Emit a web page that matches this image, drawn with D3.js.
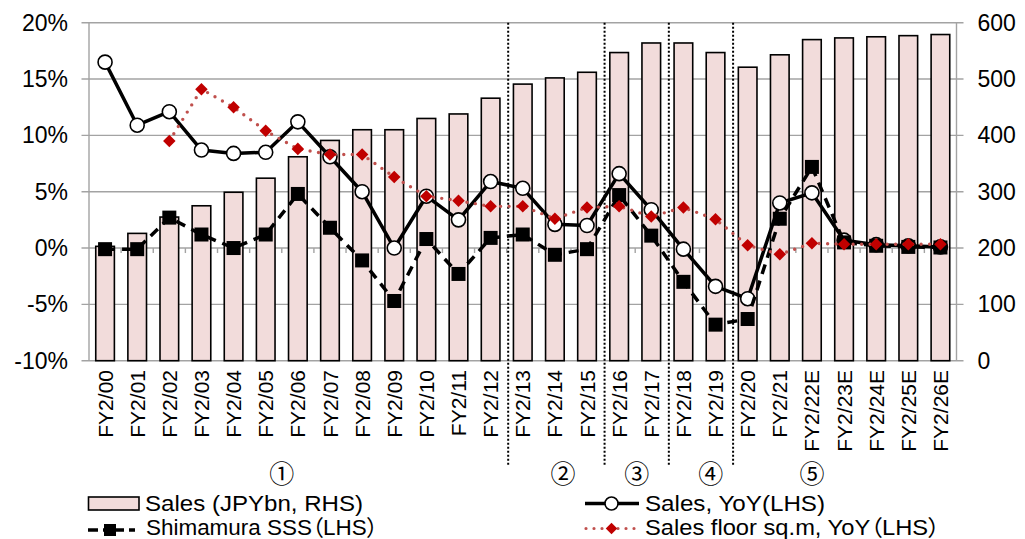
<!DOCTYPE html>
<html>
<head>
<meta charset="utf-8">
<script src="https://cdn.jsdelivr.net/npm/d3@7"></script>
<style>
  html, body { margin: 0; padding: 0; background: #fff; }
  svg { display: block; }
  text { font-family: "Liberation Sans", Arial, "Noto Sans CJK JP", sans-serif; fill: #000; }
</style>
</head>
<body>
<svg id="chart" width="1025" height="539"></svg>
<script>
// Fiscal years (Feb year-end), E = estimate
const categories = ["FY2/00","FY2/01","FY2/02","FY2/03","FY2/04","FY2/05","FY2/06","FY2/07","FY2/08",
  "FY2/09","FY2/10","FY2/11","FY2/12","FY2/13","FY2/14","FY2/15","FY2/16","FY2/17","FY2/18","FY2/19",
  "FY2/20","FY2/21","FY2/22E","FY2/23E","FY2/24E","FY2/25E","FY2/26E"];

// Sales, JPY bn (right axis)
const sales = [203, 226, 255, 275, 299, 324, 362, 391, 410, 410, 430, 438, 466, 491, 502, 512,
  547, 564, 564, 547, 521, 543, 570, 573, 575, 577, 579];

// Sales YoY, % (left axis)
const salesYoY = [16.5, 10.9, 12.1, 8.7, 8.4, 8.5, 11.2, 8.1, 5.0, 0.0, 4.6, 2.5, 5.9, 5.3, 2.1, 2.0,
  6.6, 3.4, -0.1, -3.4, -4.5, 4.0, 4.9, 0.7, 0.3, 0.2, 0.1];

// Same-store sales YoY, %
const sss = [-0.1, -0.1, 2.7, 1.2, 0.0, 1.2, 4.8, 1.8, -1.1, -4.7, 0.8, -2.3, 0.9, 1.2, -0.6, -0.1,
  4.7, 1.1, -3.0, -6.8, -6.3, 2.6, 7.2, 0.5, 0.2, 0.1, 0.05];

// Sales floor area YoY, % (no data for the first two years)
const floorYoY = [null, null, 9.5, 14.1, 12.5, 10.4, 8.8, 8.3, 8.3, 6.3, 4.6, 4.2, 3.7, 3.7, 2.6, 3.6,
  3.7, 2.8, 3.6, 2.55, 0.24, -0.56, 0.42, 0.33, 0.33, 0.33, 0.33];

// Axis ticks
const leftTicks = [-10, -5, 0, 5, 10, 15, 20];
const rightTicks = [0, 100, 200, 300, 400, 500, 600];

// Period markers: label and the first category of each later period
const periodLabels = ["①", "②", "③", "④", "⑤"];
const periodStarts = ["FY2/13", "FY2/16", "FY2/18", "FY2/20"];

// Legend entries
const legendLabels = ["Sales (JPYbn, RHS)", "Sales, YoY(LHS)", "Shimamura SSS（LHS）", "Sales floor sq.m, YoY（LHS）"];

// ---- layout ----
const plot = { left: 89, right: 956.5, top: 22.7, bottom: 360.7 };
const svg = d3.select("#chart");

const x = d3.scaleBand().domain(categories).range([plot.left, plot.right])
  .paddingInner(0.42).paddingOuter(0.21);
const step = x.step();
const cx = d => x(d) + x.bandwidth() / 2;
const yL = d3.scaleLinear().domain([-10, 20]).range([plot.bottom, plot.top]);
const yR = d3.scaleLinear().domain([0, 600]).range([plot.bottom, plot.top]);

const grid = "#a3a3a3";

// horizontal gridlines (extend slightly outside both axes as tick marks)
svg.append("g").selectAll("line").data(leftTicks).join("line")
  .attr("x1", plot.left - 7.5).attr("x2", plot.right + 7)
  .attr("y1", d => yL(d)).attr("y2", d => yL(d))
  .attr("stroke", grid).attr("stroke-width", 1.4);

// vertical axis lines
svg.append("line").attr("x1", plot.left).attr("x2", plot.left)
  .attr("y1", plot.top).attr("y2", plot.bottom).attr("stroke", grid).attr("stroke-width", 1.4);
svg.append("line").attr("x1", plot.right).attr("x2", plot.right)
  .attr("y1", plot.top).attr("y2", plot.bottom).attr("stroke", grid).attr("stroke-width", 1.4);

// left axis labels
const axL = svg.append("g").attr("transform", `translate(${plot.left},0)`)
  .call(d3.axisLeft(yL).tickValues(leftTicks).tickFormat(d => d + "%").tickSize(0).tickPadding(21));
axL.select(".domain").remove();
axL.selectAll("text").style("font-size", "23px").attr("font-family", null);

// right axis labels
const axR = svg.append("g").attr("transform", `translate(${plot.right},0)`)
  .call(d3.axisRight(yR).tickValues(rightTicks).tickSize(0).tickPadding(21));
axR.select(".domain").remove();
axR.selectAll("text").style("font-size", "23px").attr("font-family", null);

// bars: sales on the right axis
svg.append("g").selectAll("rect").data(categories).join("rect")
  .attr("x", d => x(d))
  .attr("width", x.bandwidth())
  .attr("y", (d, i) => yR(sales[i]))
  .attr("height", (d, i) => yR(0) - yR(sales[i]))
  .attr("fill", "#f2dcdb").attr("stroke", "#000").attr("stroke-width", 1.6);

// category ticks on the zero line
svg.append("g").selectAll("line").data(categories.slice(1)).join("line")
  .attr("x1", d => x(d) - step * 0.21).attr("x2", d => x(d) - step * 0.21)
  .attr("y1", yL(0)).attr("y2", yL(0) + 5)
  .attr("stroke", grid).attr("stroke-width", 1.4);

// category labels, rotated
svg.append("g").selectAll("text").data(categories).join("text")
  .attr("transform", d => `translate(${cx(d)},370) rotate(-90)`)
  .attr("text-anchor", "end").attr("dy", "0.36em")
  .style("font-size", "21px")
  .text(d => d);

// period separators
svg.append("g").selectAll("line").data(periodStarts).join("line")
  .attr("x1", d => x(d) - step * 0.21 + 1.5).attr("x2", d => x(d) - step * 0.21 + 1.5)
  .attr("y1", plot.top).attr("y2", 466.5)
  .attr("stroke", "#000").attr("stroke-width", 2).attr("stroke-dasharray", "2,2");

// period labels placed along the category axis
const periodAt = [5.5, 14.25, 16.55, 18.85, 22.0];
const bandCenter = i => plot.left + step * 0.5 + i * step;
svg.append("g").selectAll("text").data(periodLabels).join("text")
  .attr("x", (d, i) => bandCenter(periodAt[i]))
  .attr("y", 483)
  .attr("text-anchor", "middle")
  .style("font-size", "25px")
  .style("font-family", "'Noto Sans CJK JP', sans-serif")
  .text(d => d);

// line generators
const lineL = vals => d3.line()
  .defined((d, i) => vals[i] !== null)
  .x(d => cx(d)).y((d, i) => yL(vals[i]));

// Sales YoY: solid line with open circles
svg.append("path").datum(categories).attr("d", lineL(salesYoY))
  .attr("fill", "none").attr("stroke", "#000").attr("stroke-width", 3.5).attr("stroke-linejoin", "round");
svg.append("g").selectAll("circle").data(categories).join("circle")
  .attr("cx", d => cx(d)).attr("cy", (d, i) => yL(salesYoY[i])).attr("r", 7)
  .attr("fill", "#fff").attr("stroke", "#000").attr("stroke-width", 1.6);

// SSS: dashed line with filled squares
svg.append("path").datum(categories).attr("d", lineL(sss))
  .attr("fill", "none").attr("stroke", "#000").attr("stroke-width", 3.5).attr("stroke-dasharray", "10,7");
svg.append("g").selectAll("rect").data(categories).join("rect")
  .attr("x", d => cx(d) - 7).attr("y", (d, i) => yL(sss[i]) - 7)
  .attr("width", 14).attr("height", 14).attr("fill", "#000");

// Sales floor YoY: dotted red line with diamonds
const floorCats = categories.filter((d, i) => floorYoY[i] !== null);
svg.append("path").datum(categories).attr("d", lineL(floorYoY))
  .attr("fill", "none").attr("stroke", "#c0504d").attr("stroke-width", 3.4)
  .attr("stroke-linecap", "round").attr("stroke-dasharray", "0,8.5");
const diamond = d3.symbol().type(d3.symbolDiamond2).size(100);
svg.append("g").selectAll("path").data(floorCats).join("path")
  .attr("transform", d => `translate(${cx(d)},${yL(floorYoY[categories.indexOf(d)])})`)
  .attr("d", diamond).attr("fill", "#c00000");

// ---- legend ----
const lg = svg.append("g");
const legendText = (label, xx, yy, len) => lg.append("text")
  .attr("x", xx).attr("y", yy).style("font-size", "22px")
  .style("font-feature-settings", "'palt'")
  .attr("textLength", len).attr("lengthAdjust", "spacingAndGlyphs").text(label);

// Sales bar
lg.append("rect").attr("x", 88.5).attr("y", 497).attr("width", 50.5).attr("height", 13)
  .attr("fill", "#f2dcdb").attr("stroke", "#000").attr("stroke-width", 1.6);
legendText(legendLabels[0], 145, 511, 218);

// Sales YoY
lg.append("line").attr("x1", 585).attr("x2", 639).attr("y1", 503.5).attr("y2", 503.5)
  .attr("stroke", "#000").attr("stroke-width", 3.5);
lg.append("circle").attr("cx", 611.5).attr("cy", 503.5).attr("r", 6.5)
  .attr("fill", "#fff").attr("stroke", "#000").attr("stroke-width", 1.6);
legendText(legendLabels[1], 645, 511, 180);

// SSS
lg.append("line").attr("x1", 88).attr("x2", 137).attr("y1", 530).attr("y2", 530)
  .attr("stroke", "#000").attr("stroke-width", 3.5).attr("stroke-dasharray", "10,5,6,5");
lg.append("rect").attr("x", 104).attr("y", 524).attr("width", 12).attr("height", 12).attr("fill", "#000");
legendText(legendLabels[2], 146, 535, 232);

// Sales floor YoY
lg.append("line").attr("x1", 586).attr("x2", 639).attr("y1", 528.5).attr("y2", 528.5)
  .attr("stroke", "#c0504d").attr("stroke-width", 3.2).attr("stroke-linecap", "round")
  .attr("stroke-dasharray", "0,8");
lg.append("path").attr("transform", "translate(611.5,528.5)")
  .attr("d", d3.symbol().type(d3.symbolDiamond2).size(85)).attr("fill", "#c00000");
legendText(legendLabels[3], 645, 535, 295);
</script>
</body>
</html>
